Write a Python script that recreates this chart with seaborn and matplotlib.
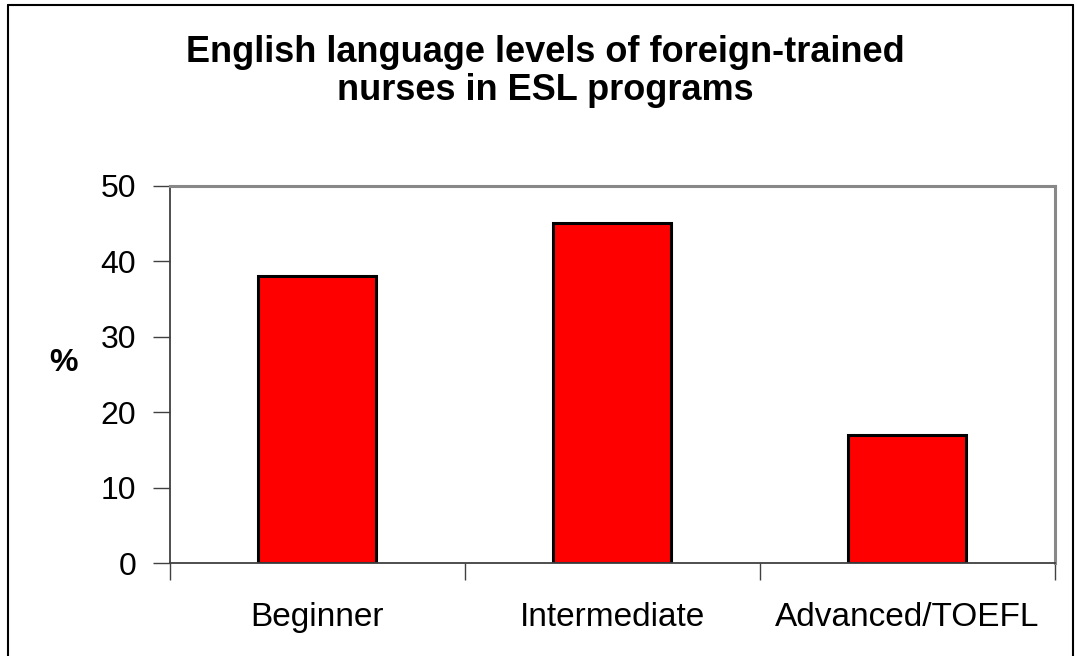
import numpy as np
import pandas as pd
import matplotlib.pyplot as plt
import seaborn as sns
from matplotlib.lines import Line2D

# data
levels = ['Beginner', 'Intermediate', 'Advanced/TOEFL']
percent = [38, 45, 17]

df = pd.DataFrame({'level': levels, 'pct': percent})

sns.set_style('white')
plt.rcParams['font.family'] = ['Liberation Sans', 'DejaVu Sans']
plt.rcParams['text.color'] = 'black'
plt.rcParams['xtick.color'] = 'black'
plt.rcParams['ytick.color'] = 'black'
plt.rcParams['axes.labelcolor'] = 'black'

fig = plt.figure(figsize=(10.77, 6.56), dpi=100)
ax = fig.add_axes([0.1574, 0.1413, 0.8222, 0.5759])

sns.barplot(data=df, x='level', y='pct', color='#FF0000', saturation=1,
            edgecolor='black', linewidth=2.2, width=0.4, ax=ax)

ax.set_xlim(-0.5, 2.5)
ax.set_ylim(0, 50)
ax.set_yticks([0, 10, 20, 30, 40, 50])
ax.tick_params(axis='y', labelsize=23, direction='out', length=12, width=1,
               color='#404040', left=True, pad=12)

# category boundaries as ticks, labels in the middle
ax.set_xticks([-0.5, 0.5, 1.5, 2.5])
ax.set_xticklabels([])
ax.set_xticks([0, 1, 2], minor=True)
ax.set_xticklabels(levels, minor=True)
ax.tick_params(axis='x', which='major', direction='out', length=12, width=1,
               color='#404040', bottom=True)
ax.tick_params(axis='x', which='minor', length=0, labelsize=24, pad=28)

ax.set_xlabel('')
ax.set_ylabel('%', fontsize=23, fontweight='bold', rotation=0, labelpad=0)
ax.yaxis.set_label_coords(-0.12, 0.49)

for s in ['left', 'bottom']:
    ax.spines[s].set_color('#404040')
    ax.spines[s].set_linewidth(1.3)
for s in ['top', 'right']:
    ax.spines[s].set_color('#888888')
    ax.spines[s].set_linewidth(2.2)

fig.text(0.506, 0.946, 'English language levels of foreign-trained\nnurses in ESL programs',
         ha='center', va='top', fontsize=26, fontweight='bold', linespacing=1.08)

# outer chart border
W, H = 1077, 656
fig.add_artist(Line2D([8 / W, 8 / W], [0, 1 - 5 / H], color='black', lw=1.5))
fig.add_artist(Line2D([8 / W, 1073 / W], [1 - 5 / H, 1 - 5 / H], color='black', lw=1.5))
fig.add_artist(Line2D([1073 / W, 1073 / W], [0, 1 - 5 / H], color='black', lw=1.5))

fig.savefig('out.png', dpi=100)
